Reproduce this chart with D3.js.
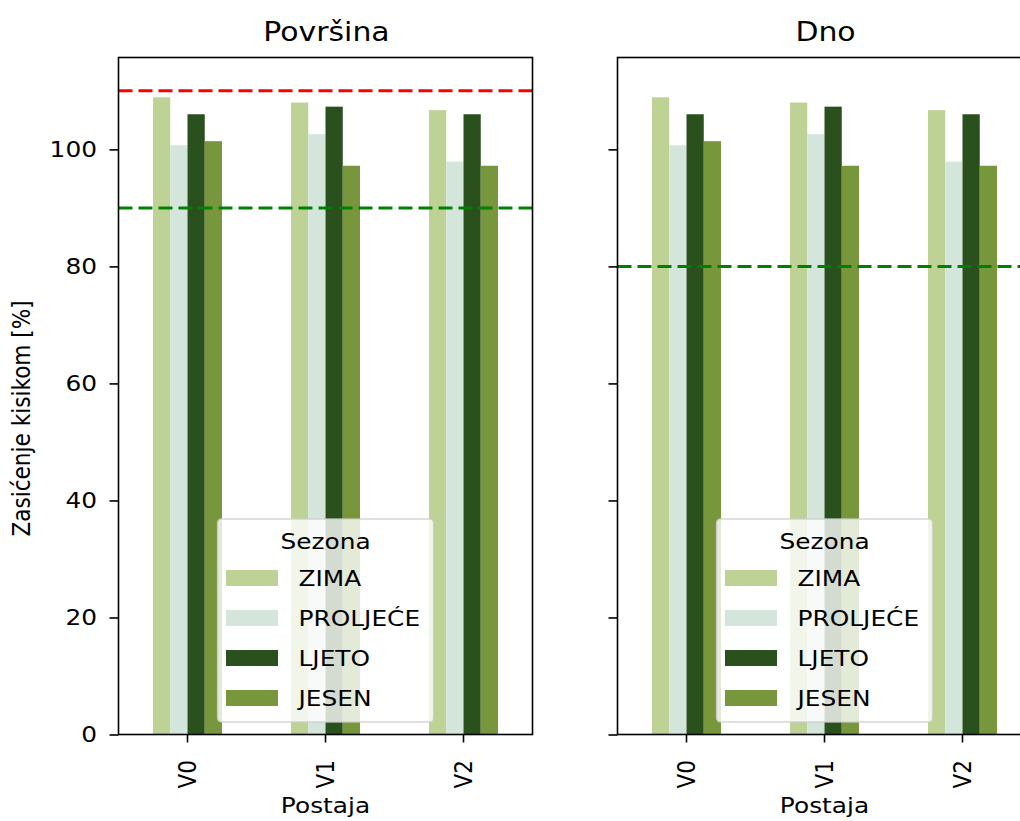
<!DOCTYPE html>
<html>
<head>
<meta charset="utf-8">
<script src="https://cdn.jsdelivr.net/npm/d3@7"></script>
<style>
  html, body { margin: 0; padding: 0; background: #fff; }
  svg { display: block; }
  text { font-family: "DejaVu Sans", sans-serif; fill: #000; }
</style>
</head>
<body>
<script>
// Stations and seasons
const stations = ["V0", "V1", "V2"];
const seasons = ["ZIMA", "PROLJEĆE", "LJETO", "JESEN"];
const seasonColors = ["#bed296", "#d4e6dc", "#2a501e", "#78963c"];

// Oxygen saturation [%] per season, surface layer
const povrsinaZima     = [108.9, 108.0, 106.7];
const povrsinaProljece = [100.7, 102.6, 97.9];
const povrsinaLjeto    = [106.0, 107.3, 106.0];
const povrsinaJesen    = [101.4, 97.2, 97.2];

// Oxygen saturation [%] per season, bottom layer
const dnoZima     = [108.9, 108.0, 106.7];
const dnoProljece = [100.7, 102.6, 97.9];
const dnoLjeto    = [106.0, 107.3, 106.0];
const dnoJesen    = [101.4, 97.2, 97.2];

// Reference limits
const povrsinaLimits = [{ value: 110, color: "#ff0000" }, { value: 90, color: "#008000" }];
const dnoLimits = [{ value: 80, color: "#008000" }];

const yTicks = [0, 20, 40, 60, 80, 100];
const yMax = 115.7;

const W = 1020, H = 821;
const FS = 21.6;        // base font size
const TFS = 26;         // title font size
const SX = 1.15;        // horizontal glyph stretch

const svg = d3.select("body").append("svg")
  .attr("width", W).attr("height", H)
  .attr("viewBox", `0 0 ${W} ${H}`);

svg.append("rect").attr("width", W).attr("height", H).attr("fill", "#fff");

const axTop = 57.5, axBottom = 734.5, axW = 414;
const y = d3.scaleLinear().domain([0, yMax]).range([axBottom, axTop]);

function stretchedText(g, x, yy, str, opts = {}) {
  const rot = opts.rotate ? ` rotate(${opts.rotate})` : "";
  return g.append("text")
    .attr("transform", `translate(${x},${yy}) scale(${SX},1)${rot}`)
    .attr("text-anchor", opts.anchor || "start")
    .attr("dy", opts.dy || null)
    .style("font-size", (opts.size || FS) + "px")
    .text(str);
}

function panel(left, title, series, limits, showYLabels) {
  const g = svg.append("g");
  const x = d3.scaleBand().domain(stations).range([left, left + axW]).paddingInner(0).paddingOuter(0);
  const bw = x.bandwidth();
  const xs = d3.scaleBand().domain(seasons).range([-0.25 * bw, 0.25 * bw]);

  const clip = "clip-" + title.replace(/[^a-z]/gi, "");
  svg.append("clipPath").attr("id", clip)
    .append("rect").attr("x", left).attr("y", axTop).attr("width", axW).attr("height", axBottom - axTop);

  const plot = g.append("g").attr("clip-path", `url(#${clip})`);

  // bars
  seasons.forEach((s, si) => {
    plot.append("g").selectAll("rect")
      .data(series[si])
      .join("rect")
      .attr("x", (d, i) => x(stations[i]) + bw / 2 + xs(s))
      .attr("y", d => y(d))
      .attr("width", xs.bandwidth())
      .attr("height", d => y(0) - y(d))
      .attr("fill", seasonColors[si]);
  });

  // limit lines
  limits.forEach(l => {
    plot.append("line")
      .attr("x1", left).attr("x2", left + axW)
      .attr("y1", y(l.value)).attr("y2", y(l.value))
      .attr("stroke", l.color).attr("stroke-width", 3)
      .attr("stroke-dasharray", "14 6");
  });

  // spines
  g.append("rect")
    .attr("x", left).attr("y", axTop).attr("width", axW).attr("height", axBottom - axTop)
    .attr("fill", "none").attr("stroke", "#000").attr("stroke-width", 1.6);

  // y ticks
  const yAxis = d3.axisLeft(y).tickValues(yTicks).tickSize(9).tickFormat(() => "");
  const ya = g.append("g").attr("transform", `translate(${left},0)`).call(yAxis);
  ya.select(".domain").remove();
  ya.selectAll(".tick line").attr("stroke", "#000").attr("stroke-width", 1.6);
  ya.selectAll(".tick text").remove();
  if (showYLabels) {
    yTicks.forEach(t => {
      stretchedText(g, left - 21.5, y(t), String(t), { anchor: "end", dy: "0.36em" });
    });
  }

  // x ticks
  const xAxis = d3.axisBottom(x).tickSize(8).tickFormat(() => "");
  const xa = g.append("g").attr("transform", `translate(0,${axBottom})`).call(xAxis);
  xa.select(".domain").remove();
  xa.selectAll(".tick line").attr("stroke", "#000").attr("stroke-width", 1.6);
  xa.selectAll(".tick text").remove();
  stations.forEach(st => {
    stretchedText(g, x(st) + bw / 2, 760, st, { anchor: "end", rotate: -90, dy: "0.36em" });
  });

  // x label
  stretchedText(g, left + axW / 2, 813, "Postaja", { anchor: "middle" });

  // title
  stretchedText(g, left + axW / 2 + 1, 41, title, { anchor: "middle", size: TFS });

  // legend
  const lg = g.append("g");
  const lx0 = left + axW / 2 - 108, lx1 = left + axW / 2 + 108;
  const ly0 = 519, ly1 = 722;
  lg.append("rect")
    .attr("x", lx0).attr("y", ly0).attr("width", lx1 - lx0).attr("height", ly1 - ly0)
    .attr("rx", 4).attr("ry", 4)
    .attr("fill", "#fff").attr("fill-opacity", 0.8)
    .attr("stroke", "#cccccc").attr("stroke-opacity", 0.8).attr("stroke-width", 1.3);
  stretchedText(lg, left + axW / 2, 548.5, "Sezona", { anchor: "middle" });
  const rowY = d3.scaleLinear().domain([0, 3]).range([578, 698]);
  seasons.forEach((s, si) => {
    lg.append("rect")
      .attr("x", lx0 + 8.5).attr("y", rowY(si) - 8)
      .attr("width", 52).attr("height", 16)
      .attr("fill", seasonColors[si]);
    stretchedText(lg, lx0 + 81, rowY(si) + 8, s);
  });
}

panel(118.5, "Površina",
  [povrsinaZima, povrsinaProljece, povrsinaLjeto, povrsinaJesen], povrsinaLimits, true);
panel(617.5, "Dno",
  [dnoZima, dnoProljece, dnoLjeto, dnoJesen], dnoLimits, false);

// shared y label
stretchedText(svg, 30, 418.5, "Zasićenje kisikom [%]", { anchor: "middle", rotate: -90 });
</script>
</body>
</html>
